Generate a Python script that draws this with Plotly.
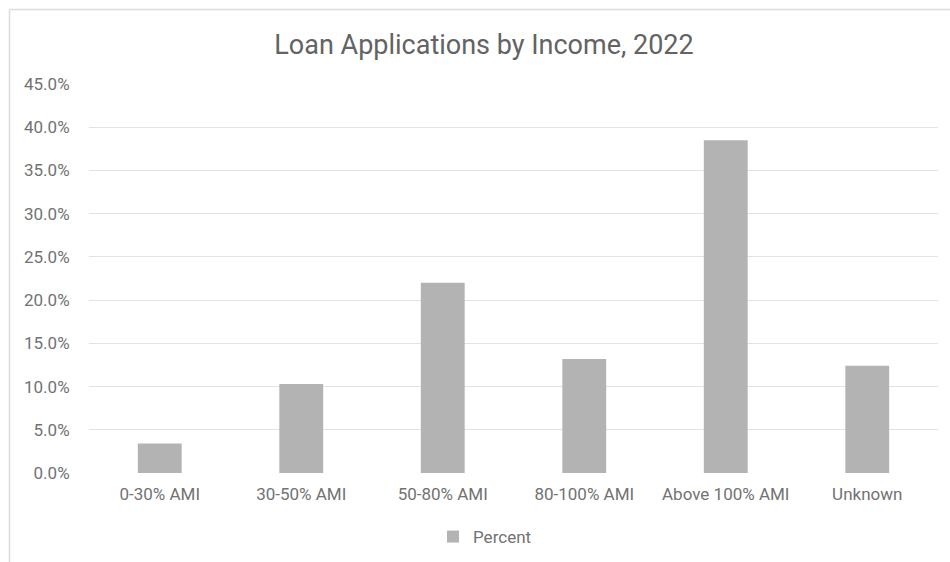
import plotly.graph_objects as go

categories = ["0-30% AMI", "30-50% AMI", "50-80% AMI", "80-100% AMI", "Above 100% AMI", "Unknown"]
percent = [0.034, 0.103, 0.220, 0.132, 0.385, 0.124]
y_ticks = [0.0, 0.05, 0.10, 0.15, 0.20, 0.25, 0.30, 0.35, 0.40, 0.45]

W, H = 950, 562
L, R, T, B = 89, 12, 84, 89
PW, PH = W - L - R, H - T - B

def px(x):
    return (x - L) / PW

def py(y):
    return (H - B - y) / PH

FONT = "Roboto"
GREY = "#636363"
TICK = "#727272"

fig = go.Figure()
fig.add_trace(go.Bar(
    x=categories, y=percent, name="Percent",
    marker=dict(color="#b3b3b3", line=dict(width=0)),
    showlegend=True,
))

fig.update_layout(
    width=W, height=H,
    margin=dict(l=L, r=R, t=T, b=B, autoexpand=False),
    paper_bgcolor="white", plot_bgcolor="white",
    bargap=0.69,
    title=dict(text="Loan Applications by Income, 2022", x=484 / W, xanchor="center",
               y=1 - 45 / H, yanchor="middle",
               font=dict(family=FONT, size=27, color=GREY)),
    font=dict(family=FONT, size=16, color=TICK),
    xaxis=dict(showline=False, ticks="outside", ticklen=6, tickcolor="rgba(0,0,0,0)",
               tickfont=dict(size=17, color=TICK), showgrid=False),
    yaxis=dict(range=[0, 0.45], tickvals=y_ticks, tickformat=".1%", showgrid=True,
               gridcolor="#e3e3e3", gridwidth=1, zeroline=False, showline=False,
               ticks="outside", ticklen=15, tickcolor="rgba(0,0,0,0)",
               tickfont=dict(size=17, color=TICK)),
    legend=dict(orientation="h", x=px(485), xanchor="center", y=py(537), yanchor="middle",
                font=dict(size=17, color=TICK), itemwidth=30),
    shapes=[
        dict(type="line", xref="paper", yref="paper", x0=px(9.5), x1=px(970), y0=py(9.5), y1=py(9.5),
             line=dict(color="#dcdcdc", width=1.5)),
        dict(type="line", xref="paper", yref="paper", x0=px(9.5), x1=px(9.5), y0=py(9.5), y1=py(580),
             line=dict(color="#dcdcdc", width=1.5)),
    ],
)

fig.write_html("out.html")
